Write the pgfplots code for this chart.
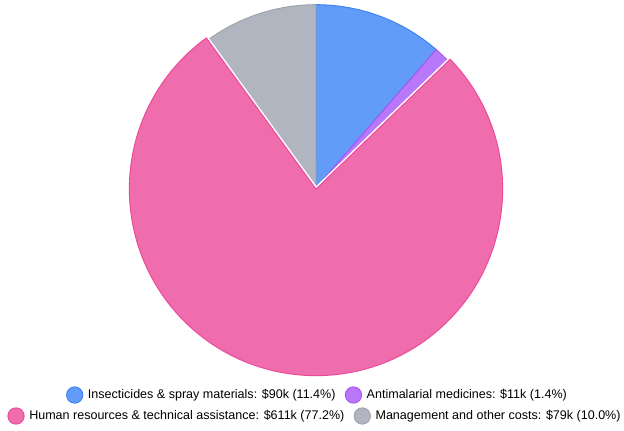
\documentclass[border=0pt]{standalone}
\usepackage{pgfplots}
\pgfplotsset{compat=1.18}
\usepackage{fontspec}
\setmainfont{Liberation Sans}

% slice colours: fill is the line colour at 80% over white
\definecolor{blueline}{RGB}{59,130,246}
\definecolor{purpleline}{RGB}{168,85,247}
\definecolor{pinkline}{RGB}{236,72,153}
\definecolor{grayline}{RGB}{156,163,175}
\colorlet{bluefill}{blueline!80!white}
\colorlet{purplefill}{purpleline!80!white}
\colorlet{pinkfill}{pinkline!80!white}
\colorlet{grayfill}{grayline!80!white}

\newcommand{\mk}[1]{\tikz[baseline=-0.6ex]\filldraw[fill=#1fill,draw=#1line,line width=0.7pt] (0,0) circle (6.1pt);}

\begin{document}
\begin{tikzpicture}
% values in $k
\pgfmathsetmacro{\vA}{90}
\pgfmathsetmacro{\vB}{11}
\pgfmathsetmacro{\vC}{611}
\pgfmathsetmacro{\vD}{79}
\pgfmathsetmacro{\tot}{\vA+\vB+\vC+\vD}
\pgfmathsetmacro{\aO}{90}
\pgfmathsetmacro{\aA}{\aO-\vA/\tot*360}
\pgfmathsetmacro{\aB}{\aA-\vB/\tot*360}
\pgfmathsetmacro{\aC}{\aB-\vC/\tot*360}
\pgfmathsetmacro{\aD}{\aC-\vD/\tot*360}
\pgfmathsetmacro{\aCp}{\aC+360}
\pgfmathsetmacro{\aDp}{\aD+360}
\def\R{137.5pt}
\def\Rbig{140pt}
\begin{axis}[
  x=0.75pt, y=0.75pt,
  xmin=0, xmax=624, ymin=0, ymax=430,
  hide axis, clip=false,
]
\path (axis cs:0,0) rectangle (axis cs:624,430);
\filldraw[fill=bluefill,draw=blueline,line width=0.7pt]
  (axis cs:316,242) -- ++(\aO:\R) arc[start angle=\aO,end angle=\aA,radius=\R] -- cycle;
\filldraw[fill=purplefill,draw=purpleline,line width=0.7pt]
  (axis cs:316,242) -- ++(\aA:\R) arc[start angle=\aA,end angle=\aB,radius=\R] -- cycle;
\filldraw[fill=grayfill,draw=grayline,line width=0.7pt]
  (axis cs:316,242) -- ++(\aCp:\R) arc[start angle=\aCp,end angle=\aDp,radius=\R] -- cycle;
% hovered slice, slightly larger with a white edge
\draw[white,line width=3pt]
  (axis cs:316,241) -- ++(\aB:\Rbig) arc[start angle=\aB,end angle=\aC,radius=\Rbig] -- cycle;
\filldraw[fill=pinkfill,draw=pinkline,line width=0.7pt]
  (axis cs:316,241) -- ++(\aB:\Rbig) arc[start angle=\aB,end angle=\aC,radius=\Rbig] -- cycle;

\node[font=\fontsize{9.4}{11}\selectfont,inner sep=0pt] at (axis cs:316.5,35)
  {\mk{blue}\hspace{3.5pt}Insecticides \& spray materials: \$90k (11.4\%)\hspace{7pt}\mk{purple}\hspace{3.5pt}Antimalarial medicines: \$11k (1.4\%)};
\node[font=\fontsize{9.4}{11}\selectfont,inner sep=0pt] at (axis cs:314,14)
  {\mk{pink}\hspace{3.5pt}Human resources \& technical assistance: \$611k (77.2\%)\hspace{7pt}\mk{gray}\hspace{3.5pt}Management and other costs: \$79k (10.0\%)};
\end{axis}
\end{tikzpicture}
\end{document}
